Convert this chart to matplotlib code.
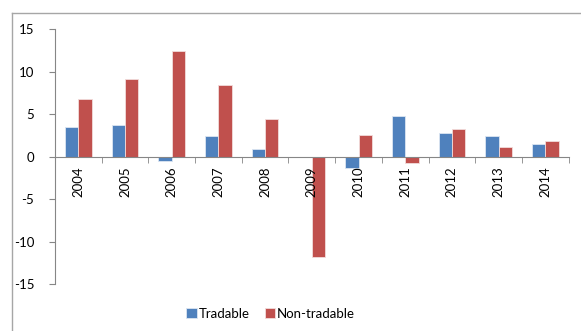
import numpy as np
import matplotlib
matplotlib.use("Agg")
import matplotlib.pyplot as plt
from matplotlib.lines import Line2D

years = ["2004", "2005", "2006", "2007", "2008", "2009",
         "2010", "2011", "2012", "2013", "2014"]
tradable = [3.5, 3.7, -0.5, 2.4, 0.9, -0.1, -1.3, 4.8, 2.8, 2.4, 1.5]
non_tradable = [6.8, 9.1, 12.5, 8.4, 4.4, -11.8, 2.5, -0.8, 3.2, 1.1, 1.9]
yticks = [-15, -10, -5, 0, 5, 10, 15]

plt.rcParams["font.family"] = ["Lato", "DejaVu Sans"]

fig = plt.figure(figsize=(5.81, 3.31), dpi=100, facecolor="white")
ax = fig.add_axes([0.0947, 0.142, 0.884, 0.7695])

x = np.arange(len(years))
w = 0.285
ax.bar(x - w / 2, tradable, w, color="#4F81BD", edgecolor="#DCE6F2",
       linewidth=0.6, label="Tradable")
ax.bar(x + w / 2, non_tradable, w, color="#C0504D", edgecolor="#F2DCDB",
       linewidth=0.6, label="Non-tradable")

ax.set_xlim(-0.5, len(years) - 0.5)
ax.set_ylim(-15, 15)
ax.set_yticks(yticks)
ax.set_yticklabels([str(v) for v in yticks], fontsize=9.5)

ax.spines["top"].set_visible(False)
ax.spines["right"].set_visible(False)
ax.spines["bottom"].set_position(("data", 0))
for s in ("left", "bottom"):
    ax.spines[s].set_color("#868686")
    ax.spines[s].set_linewidth(0.8)

# labels at category centres, tick marks between categories
ax.set_xticks(x)
ax.set_xticklabels(years, rotation=90, fontsize=9.5)
ax.set_xticks(np.arange(-0.5, len(years)), minor=True)
ax.tick_params(axis="x", which="major", length=0, pad=7)
ax.tick_params(axis="x", which="minor", length=4, color="#868686",
               direction="out")
ax.tick_params(axis="y", length=4, color="#868686", pad=11)

fig.legend(loc="center", bbox_to_anchor=(0.466, 0.052), ncol=2,
           frameon=False, fontsize=9.5, handlelength=0.8, handleheight=0.8,
           handletextpad=0.15, columnspacing=1.1)

# chart area border (cut off at the right and bottom)
fig.add_artist(Line2D([0.0202, 1.0], [0.9616, 0.9616], color="#A6A6A6",
                      linewidth=1.0, transform=fig.transFigure))
fig.add_artist(Line2D([0.0202, 0.0202], [0.0, 0.9616], color="#A6A6A6",
                      linewidth=1.0, transform=fig.transFigure))

fig.savefig("out.png", dpi=100, facecolor="white")
